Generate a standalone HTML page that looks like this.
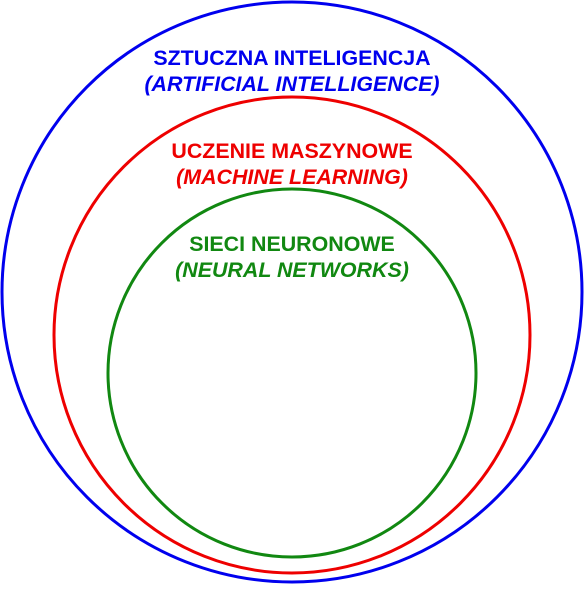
<!DOCTYPE html>
<html><head><style>body{margin:0;background:#fff}</style></head><body>
<svg width="584" height="584" viewBox="0 0 584 584" xmlns="http://www.w3.org/2000/svg" font-family="Liberation Sans, sans-serif" font-weight="bold" font-size="21.4" text-anchor="middle">
<rect width="584" height="584" fill="#fff"/>
<circle cx="292" cy="292" r="290" fill="none" stroke="#0000ee" stroke-width="3"/>
<circle cx="292" cy="335" r="238" fill="none" stroke="#ee0000" stroke-width="3"/>
<circle cx="292" cy="373" r="184" fill="none" stroke="#118811" stroke-width="3"/>
<text x="292" y="65" fill="#0000ee">SZTUCZNA INTELIGENCJA</text>
<text x="292" y="91" fill="#0000ee" font-style="italic">(ARTIFICIAL INTELLIGENCE)</text>
<text x="292" y="158" fill="#ee0000">UCZENIE MASZYNOWE</text>
<text x="292" y="184" fill="#ee0000" font-style="italic">(MACHINE LEARNING)</text>
<text x="292" y="251" fill="#118811">SIECI NEURONOWE</text>
<text x="292" y="277" fill="#118811" font-style="italic">(NEURAL NETWORKS)</text>
</svg>
</body></html>
